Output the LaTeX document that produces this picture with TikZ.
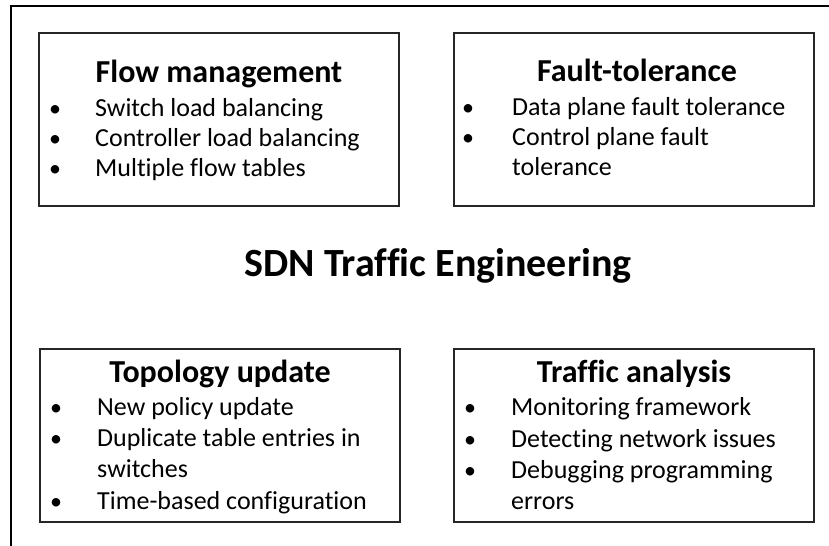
\documentclass[tikz,border=0pt]{standalone}
\usepackage{fontspec}
\setmainfont{Carlito}[Ligatures=NoCommon]
\begin{document}
\begin{tikzpicture}[x=1bp,y=-1bp,
  frame/.style={draw=black,line width=1.6bp},
  panel/.style={draw=black!85,line width=1.6bp,inner sep=0pt,anchor=north west,
                minimum width=360bp,minimum height=173bp},
  heading/.style={anchor=base,inner sep=0pt,font=\fontsize{32bp}{36bp}\selectfont\bfseries},
  maintitle/.style={anchor=base,inner sep=0pt,font=\fontsize{40bp}{48bp}\selectfont\bfseries},
  dot/.style={anchor=base,inner sep=0pt,font=\fontsize{24bp}{30bp}\selectfont},
  item/.style={anchor=base west,inner sep=0pt,font=\fontsize{26bp}{30bp}\selectfont}]
  \useasboundingbox (0,0) rectangle (829,546);

  % open outer frame: top and left edges only
  \coordinate (fbl) at (11,546);
  \coordinate (ftl) at (11,6);
  \coordinate (ftr) at (829,6);
  \draw[frame] (fbl) -- (ftl) -- (ftr);

  % the four panels
  \node[panel] (flow)  at (38,32)  {};
  \node[panel] (fault) at (453,32) {};
  \node[panel] (topo)  at (39,348) {};
  \node[panel] (traf)  at (453,348) {};

  % centre title
  \node[maintitle] (sdn) at (438,277) {SDN Traffic Engineering};

  % Flow management
  \node[heading] (flowh) at (219,83) {Flow management};
  \node[dot] (f1b) at (55,117) {•};
  \node[item] (f1) at (95,117) {Switch load balancing};
  \node[dot] (f2b) at (55,147) {•};
  \node[item] (f2) at (95,147) {Controller load balancing};
  \node[dot] (f3b) at (55,177) {•};
  \node[item] (f3) at (95,177) {Multiple flow tables};

  % Fault-tolerance
  \node[heading] (faulth) at (637,82) {Fault-tolerance};
  \node[dot] (t1b) at (468,116) {•};
  \node[item] (t1) at (512,116) {Data plane fault tolerance};
  \node[dot] (t2b) at (468,146) {•};
  \node[item] (t2) at (512,146) {Control plane fault};
  \node[item] (t2c) at (512,176) {tolerance};

  % Topology update
  \node[heading] (topoh) at (220,382) {Topology update};
  \node[dot] (u1b) at (56,415) {•};
  \node[item] (u1) at (97,415) {New policy update};
  \node[dot] (u2b) at (56,446) {•};
  \node[item] (u2) at (97,446) {Duplicate table entries in};
  \node[item] (u2c) at (97,477) {switches};
  \node[dot] (u3b) at (56,509) {•};
  \node[item] (u3) at (97,509) {Time-based configuration};

  % Traffic analysis
  \node[heading] (trafh) at (634,382) {Traffic analysis};
  \node[dot] (a1b) at (470,415) {•};
  \node[item] (a1) at (511,415) {Monitoring framework};
  \node[dot] (a2b) at (470,447) {•};
  \node[item] (a2) at (511,447) {Detecting network issues};
  \node[dot] (a3b) at (470,478) {•};
  \node[item] (a3) at (511,478) {Debugging programming};
  \node[item] (a3c) at (511,509) {errors};
\end{tikzpicture}
\end{document}
